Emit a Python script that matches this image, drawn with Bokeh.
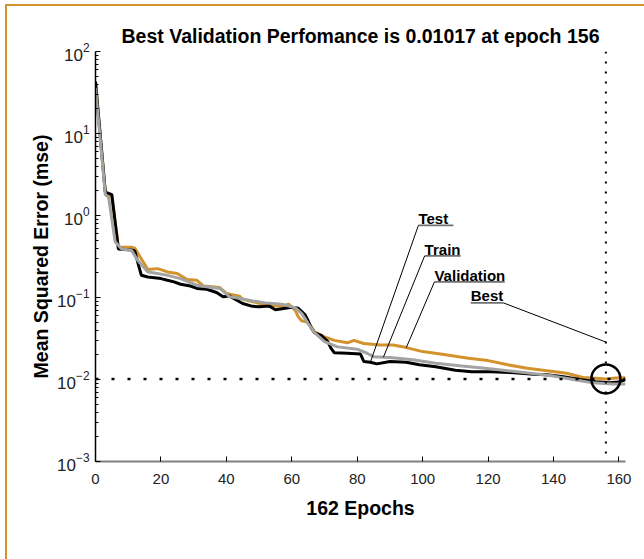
from bokeh.plotting import figure
from bokeh.models import Range1d, Span, Label, FixedTicker, GlobalInlineStyleSheet
from bokeh.embed import file_html
from bokeh.resources import INLINE

# ---------------- data ----------------
best_epoch = 156
best_perf = 0.01017
n_epochs = 162

test_epochs = [0, 3, 5, 7, 11, 12, 13, 14, 16, 20, 22, 24, 26, 29, 31, 34, 37, 39, 41, 45,
               48, 50, 53, 55, 57, 60, 62, 64, 65, 66, 67, 69, 71, 72, 73, 77, 81, 82, 84, 86,
               90, 95, 99, 104, 110, 115, 121, 128, 134, 138, 143, 148, 153, 157, 160, 162]
test_mse = [43, 1.93, 1.8, 0.39, 0.38, 0.37, 0.26, 0.187, 0.178, 0.17, 0.162, 0.155, 0.145, 0.138,
            0.129, 0.126, 0.115, 0.102, 0.104, 0.0845, 0.078, 0.077, 0.079, 0.071, 0.073, 0.076,
            0.074, 0.062, 0.052, 0.042, 0.037, 0.0345, 0.029, 0.024, 0.0212, 0.0209, 0.0204,
            0.0166, 0.0162, 0.0155, 0.0166, 0.0162, 0.0151, 0.0143, 0.013, 0.0124, 0.0124, 0.0121,
            0.0116, 0.0114, 0.0108, 0.0100, 0.0094, 0.0091, 0.0093, 0.0100]

train_epochs = [0, 3, 4, 6, 8, 11, 13, 16, 19, 22, 26, 31, 34, 38, 41, 44, 48, 52, 57, 61,
                63, 65, 67, 70, 74, 80, 83, 85, 88, 90, 97, 104, 112, 119, 126, 133, 140, 146,
                152, 158, 162]
train_mse = [36, 1.8, 1.67, 0.48, 0.39, 0.376, 0.28, 0.205, 0.196, 0.186, 0.17, 0.141, 0.135,
             0.129, 0.102, 0.098, 0.091, 0.086, 0.083, 0.075, 0.064, 0.048, 0.037, 0.029, 0.025,
             0.0234, 0.0209, 0.019, 0.0187, 0.0186, 0.0174, 0.0158, 0.0146, 0.0137, 0.0128,
             0.0119, 0.011, 0.0100, 0.0091, 0.0088, 0.0088]

val_epochs = [0, 3, 5, 7, 11, 12, 16, 19, 22, 25, 28, 31, 33, 38, 40, 44, 45, 50, 52, 57,
              59, 61, 62, 63, 65, 67, 70, 73, 77, 79, 82, 87, 91, 95, 100, 107, 114, 120, 126,
              132, 138, 144, 149, 154, 156, 159, 162]
val_mse = [40, 1.93, 1.67, 0.41, 0.41, 0.40, 0.219, 0.225, 0.205, 0.196, 0.166, 0.162, 0.138,
           0.132, 0.112, 0.104, 0.095, 0.085, 0.081, 0.078, 0.083, 0.070, 0.058, 0.052, 0.050,
           0.038, 0.033, 0.030, 0.0280, 0.030, 0.0275, 0.0263, 0.0263, 0.0245, 0.0219, 0.020,
           0.0182, 0.0170, 0.0151, 0.0137, 0.0128, 0.0119, 0.0106, 0.0103, 0.01017, 0.0104,
           0.0105]

x_ticks = [0, 20, 40, 60, 80, 100, 120, 140, 160]
y_ticks = [1e-3, 1e-2, 1e-1, 1e0, 1e1, 1e2]
y_minor = [m * t for t in y_ticks[:-1] for m in range(2, 10)]

# ---------------- styling ----------------
GOLD = "#D3922C"
GRAY = "#A3A3A3"
FONT = "Liberation Sans"

frame_css = GlobalInlineStyleSheet(css=(
    "body::before{content:'';position:fixed;left:5px;top:4px;right:0;bottom:0;"
    f"border-left:2px solid {GOLD};border-top:2px solid {GOLD};"
    "pointer-events:none;z-index:10;}"))

p = figure(width=640, height=555, output_backend="svg", toolbar_location=None,
           y_axis_type="log", x_range=Range1d(0, n_epochs), y_range=Range1d(1e-3, 1e2),
           min_border_left=95, min_border_right=15, min_border_top=51, min_border_bottom=94,
           title=f"Best Validation Perfomance is {best_perf} at epoch {best_epoch}")
p.stylesheets = [frame_css]
p.outline_line_color = None
p.grid.visible = False
p.background_fill_color = "white"
p.border_fill_color = "white"

p.title.align = "center"
p.title.text_font = FONT
p.title.text_font_size = "19.5px"
p.title.text_font_style = "bold"
p.title.text_color = "black"

# axes
p.xaxis.ticker = FixedTicker(ticks=x_ticks)
p.yaxis.ticker = FixedTicker(ticks=y_ticks, minor_ticks=y_minor)
for ax in (p.xaxis[0], p.yaxis[0]):
    ax.major_tick_in = 5
    ax.major_tick_out = 0
    ax.minor_tick_in = 3
    ax.minor_tick_out = 0
    ax.major_label_text_font = FONT
    ax.major_label_text_font_size = "15px"
    ax.major_label_text_color = "#222222"
    ax.axis_label_text_font = FONT
    ax.axis_label_text_font_size = "19.5px"
    ax.axis_label_text_font_style = "bold"
    ax.axis_label_text_color = "black"
    ax.major_tick_line_color = "black"
    ax.minor_tick_line_color = "black"
p.yaxis.major_label_text_font_size = "17px"
p.xaxis.minor_tick_line_color = None
p.xaxis.axis_line_color = "#808080"
p.xaxis.axis_line_width = 2
p.yaxis.axis_line_color = "black"
p.yaxis.axis_line_width = 1.5
p.xaxis.major_label_standoff = 12
p.yaxis.major_label_standoff = 6
p.xaxis.axis_label = f"{n_epochs} Epochs"
p.yaxis.axis_label = "Mean Squared Error (mse)"
p.xaxis.axis_label_standoff = 10
p.yaxis.axis_label_standoff = 2

# curves
p.line(val_epochs, val_mse, line_color=GOLD, line_width=3)
p.line(test_epochs, test_mse, line_color="black", line_width=3)
p.line(train_epochs, train_mse, line_color=GRAY, line_width=3)

# best markers
p.add_layout(Span(location=best_perf, dimension="width", line_color="black",
                  line_width=2.5, line_dash="3 13"))
p.add_layout(Span(location=best_epoch, dimension="height", line_color="black",
                  line_width=2, line_dash="2 8"))
p.scatter([best_epoch], [best_perf], size=29, marker="circle", fill_color=None,
          line_color="black", line_width=2.5)

# callout layout (text left epoch, underline end epoch, text mse, underline mse)
callouts = [
    ("Test", 98.7, 109.4, 0.922, 0.758),
    ("Train", 100.6, 111.6, 0.387, 0.321),
    ("Validation", 103.6, 125.1, 0.187, 0.155),
    ("Best", 114.7, 124.7, 0.1067, 0.0859),
]
targets = [
    (84, test_mse[test_epochs.index(84)]),
    (88, train_mse[train_epochs.index(88)]),
    (95, val_mse[val_epochs.index(95)]),
    (best_epoch, 0.0286),
]
for (name, x0, x1, yt, yl), (tx, ty) in zip(callouts, targets):
    p.add_layout(Label(x=x0, y=yt, text=name, text_font=FONT, text_font_size="15px",
                       text_font_style="bold", text_baseline="middle", text_align="left",
                       text_color="black"))
    p.segment([x0], [yl], [x1], [yl], line_color="#707070", line_width=1.8)
    sx = x1 if name == "Best" else x0
    p.segment([sx], [yl], [tx], [ty], line_color="black", line_width=1)

open("out.html", "w").write(file_html(p, INLINE))
